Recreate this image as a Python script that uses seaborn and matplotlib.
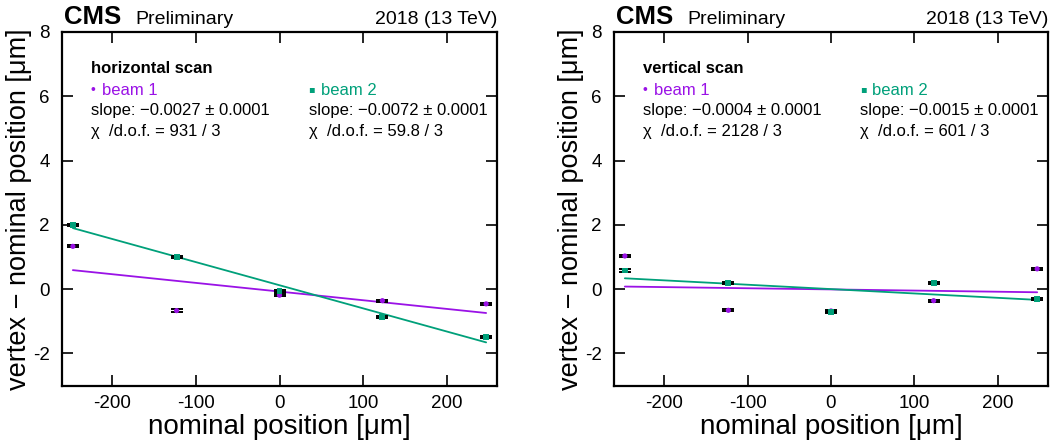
import numpy as np
import pandas as pd
import matplotlib
matplotlib.use("Agg")
import matplotlib.pyplot as plt
import seaborn as sns

# ---------------- data ----------------
nominal_pos = [-247, -123, 0, 123, 247]

h_beam1 = [1.33, -0.67, -0.19, -0.36, -0.46]
h_beam2 = [2.00, 1.00, -0.07, -0.88, -1.48]
v_beam1 = [1.03, -0.66, -0.68, -0.36, 0.63]
v_beam2 = [0.58, 0.18, -0.71, 0.18, -0.32]
point_err = [0.035, 0.035, 0.035, 0.035, 0.035]

# fitted straight lines (slope, intercept) as drawn
h_fit1 = (-0.0027, -0.077)
h_fit2 = (-0.0072, 0.120)
v_fit1 = (-0.00036, -0.010)
v_fit2 = (-0.00136, 0.000)

scan_titles = ["horizontal scan", "vertical scan"]
slope_txt = [["slope: \u22120.0027 \u00b1 0.0001", "slope: \u22120.0072 \u00b1 0.0001"],
             ["slope: \u22120.0004 \u00b1 0.0001", "slope: \u22120.0015 \u00b1 0.0001"]]
chi_txt = [["\u03c7  /d.o.f. = 931 / 3", "\u03c7  /d.o.f. = 59.8 / 3"],
           ["\u03c7  /d.o.f. = 2128 / 3", "\u03c7  /d.o.f. = 601 / 3"]]
x_ticks = [-200, -100, 0, 100, 200]
y_ticks = [-2, 0, 2, 4, 6, 8]

# ---------------- style ----------------
sns.set_theme(style="ticks")
plt.rcParams["font.family"] = ["Liberation Sans", "DejaVu Sans"]
plt.rcParams["axes.unicode_minus"] = False
plt.rcParams["text.color"] = "black"
plt.rcParams["axes.labelcolor"] = "black"
plt.rcParams["xtick.color"] = "black"
plt.rcParams["ytick.color"] = "black"

PURPLE = "#9a12e6"
GREEN = "#00a07a"
palette = {"beam 1": PURPLE, "beam 2": GREEN}

fig = plt.figure(figsize=(10.54, 4.48), dpi=100)
ax_l = fig.add_axes([62 / 1054, 62.5 / 448, 435 / 1054, 353.5 / 448])
ax_r = fig.add_axes([614 / 1054, 62.5 / 448, 434 / 1054, 353.5 / 448])

panels = [
    (ax_l, h_beam1, h_beam2, h_fit1, h_fit2),
    (ax_r, v_beam1, v_beam2, v_fit1, v_fit2),
]

for i, (ax, b1, b2, f1, f2) in enumerate(panels):
    df = pd.DataFrame({
        "x": nominal_pos * 2,
        "y": b1 + b2,
        "err": point_err * 2,
        "beam": ["beam 1"] * len(b1) + ["beam 2"] * len(b2),
    })
    # fit lines
    xs = np.array([min(nominal_pos), max(nominal_pos)], dtype=float)
    fit_df = pd.DataFrame({
        "x": np.concatenate([xs, xs]),
        "y": np.concatenate([f1[0] * xs + f1[1], f2[0] * xs + f2[1]]),
        "beam": ["beam 1"] * 2 + ["beam 2"] * 2,
    })
    sns.lineplot(data=fit_df, x="x", y="y", hue="beam", palette=palette,
                 linewidth=1.3, legend=False, ax=ax, zorder=2)
    ax.errorbar(df["x"], df["y"], yerr=df["err"], fmt="none", ecolor="black",
                elinewidth=1.2, capsize=4.2, capthick=1.4, zorder=3)
    sns.scatterplot(data=df, x="x", y="y", hue="beam", style="beam",
                    markers={"beam 1": "o", "beam 2": "s"}, palette=palette,
                    size="beam", sizes={"beam 1": 14, "beam 2": 18},
                    edgecolor="none", legend=False, ax=ax, zorder=4)

    ax.set_xlim(-260, 260)
    ax.set_ylim(-3, 8)
    ax.set_xticks(x_ticks)
    ax.set_yticks(y_ticks)
    ax.set_xticklabels([str(t) for t in x_ticks])
    ax.set_yticklabels([str(t) for t in y_ticks])
    ax.tick_params(direction="in", length=8, width=1.2, top=True, right=True,
                   labelsize=13.5, colors="black", pad=7)
    ax.tick_params(axis="y", pad=9)
    for sp in ax.spines.values():
        sp.set_visible(True)
        sp.set_linewidth(1.6)
        sp.set_color("black")
    ax.set_xlabel("nominal position [\u03bcm]", fontsize=20, color="black")
    ax.set_ylabel("vertex \u2212 nominal position [\u03bcm]", fontsize=19.5,
                  color="black")
    ax.xaxis.set_label_coords(0.5, -0.08)
    ax.yaxis.set_label_coords(-0.069, 0.5)

    # header
    ax.text(0.005, 1.022, "CMS", transform=ax.transAxes, fontsize=18.5,
            fontweight="bold", ha="left", va="baseline")
    ax.text(0.168, 1.022, "Preliminary", transform=ax.transAxes, fontsize=14,
            ha="left", va="baseline")
    ax.text(1.0, 1.022, "2018 (13 TeV)", transform=ax.transAxes, fontsize=14,
            ha="right", va="baseline")

    # annotations
    ax.text(0.067, 0.884, scan_titles[i], transform=ax.transAxes, fontsize=12,
            fontweight="bold", ha="left", va="baseline")
    ax.text(0.071, 0.825, "\u2022", transform=ax.transAxes, fontsize=10,
            color=PURPLE, ha="center", va="baseline")
    ax.text(0.092, 0.823, "beam 1", transform=ax.transAxes, fontsize=12,
            color=PURPLE, ha="left", va="baseline")
    ax.text(0.574, 0.829, "\u25aa", transform=ax.transAxes, fontsize=7,
            color=GREEN, ha="center", va="baseline",
            family=["DejaVu Sans"])
    ax.text(0.595, 0.823, "beam 2", transform=ax.transAxes, fontsize=12,
            color=GREEN, ha="left", va="baseline")
    for j, xpos in enumerate([0.067, 0.567]):
        ax.text(xpos, 0.765, slope_txt[i][j], transform=ax.transAxes,
                fontsize=12, ha="left", va="baseline")
        ax.text(xpos, 0.707, chi_txt[i][j], transform=ax.transAxes,
                fontsize=12, ha="left", va="baseline")

fig.savefig("out.png", dpi=100)
